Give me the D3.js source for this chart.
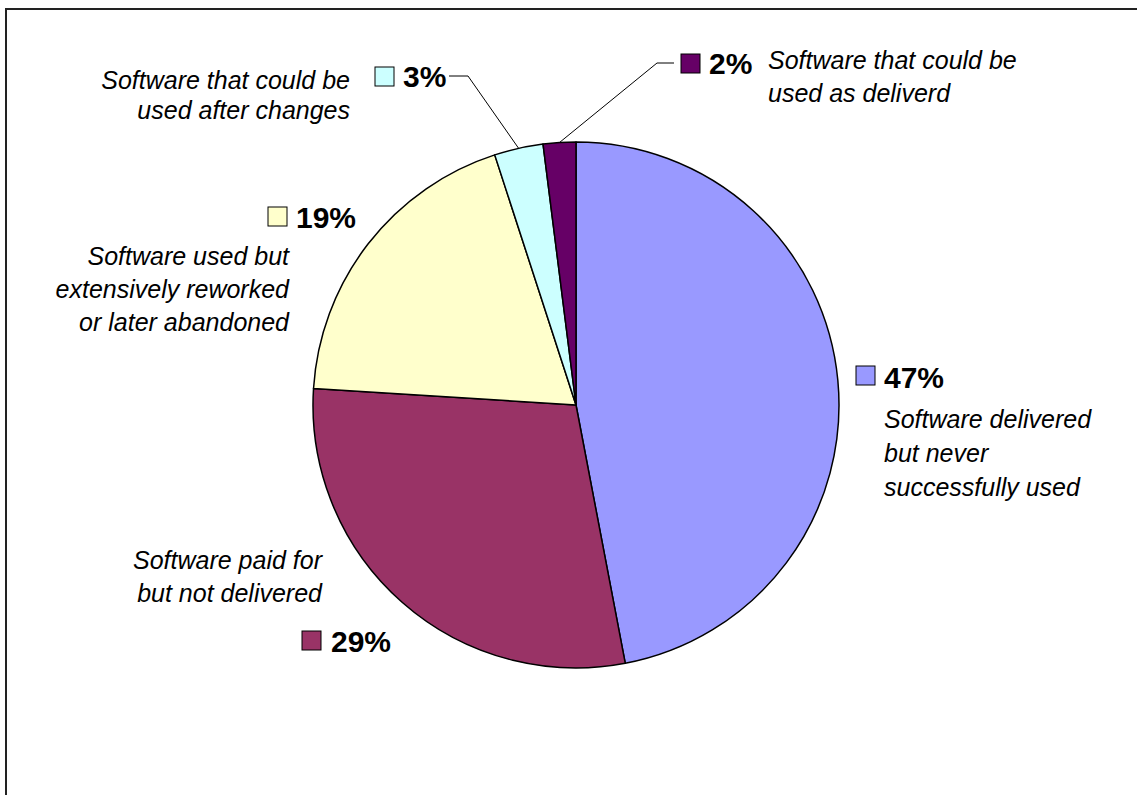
<!DOCTYPE html>
<html>
<head>
<meta charset="utf-8">
<script src="https://cdn.jsdelivr.net/npm/d3@7"></script>
<style>
  body { margin: 0; background: #fff; }
  svg { display: block; }
</style>
</head>
<body>
<div id="chart"></div>
<script>
// data
var categories = [
    ["Software delivered", "but never", "successfully used"],
    ["Software paid for", "but not delivered"],
    ["Software used but", "extensively reworked", "or later abandoned"],
    ["Software that could be", "used after changes"],
    ["Software that could be", "used as deliverd"]
];
var values = [47, 29, 19, 3, 2];
var pctLabels = ["47%", "29%", "19%", "3%", "2%"];
var colors = ["#9999FF", "#993366", "#FFFFCC", "#CCFFFF", "#660066"];

// dimensions
var width = 1137,
    height = 795,
    cx = 576,
    cy = 405,
    radius = 263;

// where each label sits (box = legend key, pct = bold %, desc = italic text)
var layout = [
    {box: [856, 366], pct: [884, 388], desc: {x: 884, y: 428, anchor: "start", dy: 34}},
    {box: [302, 631], pct: [331, 652], desc: {x: 322, y: 569, anchor: "end", dy: 33}},
    {box: [268, 207], pct: [296, 228], desc: {x: 289, y: 265, anchor: "end", dy: 33}},
    {box: [375, 67], pct: [403, 87], desc: {x: 350, y: 89, anchor: "end", dy: 30},
        leader: [[468, 76], [449, 76]]},
    {box: [681, 54], pct: [709, 74], desc: {x: 768, y: 69, anchor: "start", dy: 33},
        leader: [[657, 63], [674, 63]]}
];

var svg = d3.select("#chart").append("svg")
    .attr("width", width)
    .attr("height", height);

// chart frame (only left and top edges fall inside the window)
svg.append("rect")
    .attr("x", 6)
    .attr("y", 9)
    .attr("width", width + 20)
    .attr("height", height + 20)
    .attr("fill", "none")
    .attr("stroke", "#222")
    .attr("stroke-width", 2);

var pie = d3.pie().sort(null).value(function (d) { return d; });
var arc = d3.arc().innerRadius(0).outerRadius(radius);
var arcs = pie(values);

var g = svg.append("g")
    .attr("transform", "translate(" + cx + "," + cy + ")");

g.selectAll("path")
    .data(arcs)
    .enter().append("path")
    .attr("d", arc)
    .attr("fill", function (d, i) { return colors[i]; })
    .attr("stroke", "#000")
    .attr("stroke-width", 1.5)
    .attr("stroke-linejoin", "round");

// leader lines for the small slices
arcs.forEach(function (d, i) {
    var l = layout[i];
    if (!l.leader) return;
    var mid = (d.startAngle + d.endAngle) / 2;
    var p0 = [cx + radius * Math.sin(mid), cy - radius * Math.cos(mid)];
    var pts = [p0].concat(l.leader);
    svg.append("path")
        .attr("d", d3.line()(pts))
        .attr("fill", "none")
        .attr("stroke", "#000")
        .attr("stroke-width", 1);
});

// labels
var labels = svg.selectAll(".label")
    .data(arcs)
    .enter().append("g")
    .attr("class", "label");

labels.append("rect")
    .attr("x", function (d, i) { return layout[i].box[0]; })
    .attr("y", function (d, i) { return layout[i].box[1]; })
    .attr("width", 19)
    .attr("height", 19)
    .attr("fill", function (d, i) { return colors[i]; })
    .attr("stroke", "#000")
    .attr("stroke-width", 1);

labels.append("text")
    .attr("x", function (d, i) { return layout[i].pct[0]; })
    .attr("y", function (d, i) { return layout[i].pct[1]; })
    .style("font-family", "Arial, 'Liberation Sans', sans-serif")
    .style("font-weight", "bold")
    .style("font-size", "30px")
    .attr("fill", "#000")
    .text(function (d, i) { return pctLabels[i]; });

labels.each(function (d, i) {
    var l = layout[i].desc;
    d3.select(this).selectAll(".desc")
        .data(categories[i])
        .enter().append("text")
        .attr("class", "desc")
        .attr("x", l.x)
        .attr("y", function (t, j) { return l.y + j * l.dy; })
        .style("text-anchor", l.anchor)
        .style("font-family", "Arial, 'Liberation Sans', sans-serif")
        .style("font-style", "italic")
        .style("font-size", "25px")
        .attr("fill", "#000")
        .text(function (t) { return t; });
});
</script>
</body>
</html>
